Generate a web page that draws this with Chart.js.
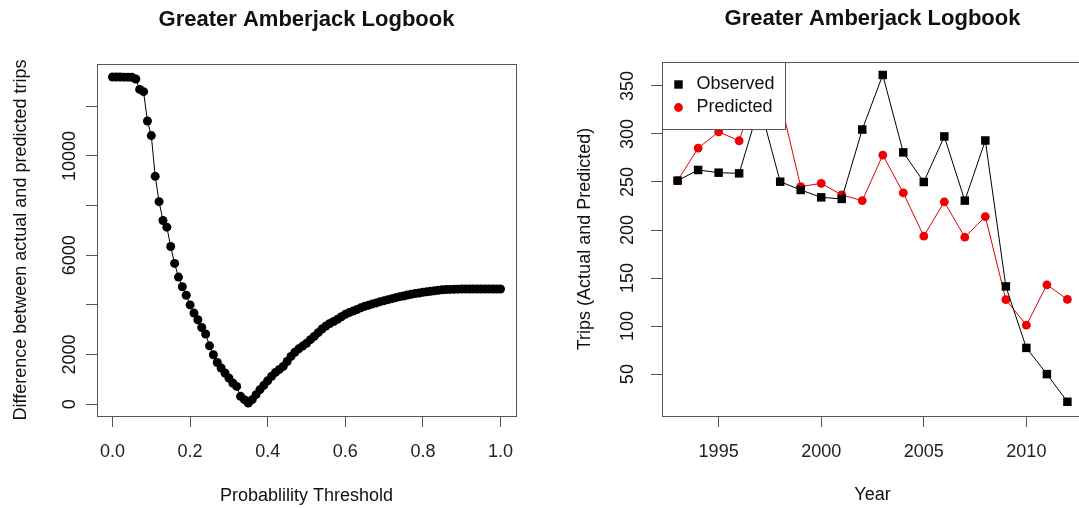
<!DOCTYPE html>
<html>
<head>
<meta charset="utf-8">
<script src="https://cdn.jsdelivr.net/npm/chart.js@4.4.1/dist/chart.umd.min.js"></script>
<style>
  html, body { margin: 0; padding: 0; background: #fff; overflow: hidden; width: 1079px; height: 508px; }
  #c1 { position: absolute; left: 0; top: 0; }
  #c2 { position: absolute; left: 560px; top: 0; }
</style>
</head>
<body>
<canvas id="c1" width="560" height="508"></canvas>
<canvas id="c2" width="560" height="508"></canvas>
<script>
// ---------- Left panel data ----------
const thresholds = [0.00,0.01,0.02,0.03,0.04,0.05,0.06,0.07,0.08,0.09,
  0.10,0.11,0.12,0.13,0.14,0.15,0.16,0.17,0.18,0.19,
  0.20,0.21,0.22,0.23,0.24,0.25,0.26,0.27,0.28,0.29,
  0.30,0.31,0.32,0.33,0.34,0.35,0.36,0.37,0.38,0.39,
  0.40,0.41,0.42,0.43,0.44,0.45,0.46,0.47,0.48,0.49,
  0.50,0.51,0.52,0.53,0.54,0.55,0.56,0.57,0.58,0.59,
  0.60,0.61,0.62,0.63,0.64,0.65,0.66,0.67,0.68,0.69,
  0.70,0.71,0.72,0.73,0.74,0.75,0.76,0.77,0.78,0.79,
  0.80,0.81,0.82,0.83,0.84,0.85,0.86,0.87,0.88,0.89,
  0.90,0.91,0.92,0.93,0.94,0.95,0.96,0.97,0.98,0.99,1.00];
const differences = [13180,13180,13180,13175,13175,13170,13100,12680,12590,11410,
  10820,9180,8160,7400,7130,6350,5670,5120,4730,4390,
  4000,3670,3400,3090,2825,2350,1990,1680,1455,1255,
  1054,853,716,314,181,48,181,382,583,757,
  945,1120,1280,1400,1520,1720,1925,2090,2230,2340,
  2450,2600,2730,2880,3030,3150,3250,3330,3420,3520,
  3620,3690,3750,3810,3880,3940,3990,4040,4080,4130,
  4170,4210,4250,4290,4330,4360,4400,4430,4460,4480,
  4510,4530,4550,4570,4590,4610,4615,4622,4628,4633,
  4637,4640,4640,4640,4640,4640,4640,4640,4640,4640,4638];
const leftXTicks = [0, 0.2, 0.4, 0.6, 0.8, 1.0];
const leftYTicks = [0, 2000, 4000, 6000, 8000, 10000, 12000];
const leftYLabels = [0, 2000, 6000, 10000];

// ---------- Right panel data ----------
const years = [1993,1994,1995,1996,1997,1998,1999,2000,2001,2002,2003,2004,2005,2006,2007,2008,2009,2010,2011,2012];
const observed = [251.4,262.5,259.7,259.0,330.0,250.3,241.7,234.0,232.4,304.6,361.4,280.8,250.0,297.4,230.6,293.2,141.3,77.3,50.0,21.2];
const predicted = [251.4,285.3,302.2,292.9,357.0,335.6,245.2,248.6,236.5,230.6,278.0,238.6,193.6,229.3,192.5,214.0,127.5,100.9,143.0,127.8];
const rightXTicks = [1995, 2000, 2005, 2010];
const rightYTicks = [50, 100, 150, 200, 250, 300, 350];

const FONT = '"Liberation Sans", Arial, Helvetica, sans-serif';
Chart.defaults.font.family = FONT;
Chart.defaults.color = '#222';

const decor = {
  id: 'decor',
  afterDraw(chart, args, o) {
    const { ctx, chartArea: a, scales } = chart;
    ctx.save();
    ctx.strokeStyle = '#555';
    ctx.lineWidth = 1;
    ctx.strokeRect(Math.round(a.left) + 0.5, Math.round(a.top) + 0.5,
                   Math.round(a.right - a.left), Math.round(a.bottom - a.top));
    ctx.fillStyle = '#111';
    ctx.textAlign = 'center';
    ctx.textBaseline = 'middle';
    const cx = (a.left + a.right) / 2;
    const cy = (a.top + a.bottom) / 2;
    ctx.font = 'bold 22px ' + FONT;
    ctx.fillText(o.title, cx, o.titleY);
    ctx.font = '18px ' + FONT;
    ctx.fillText(o.xTitle, cx, o.xTitleY);
    ctx.save();
    ctx.translate(o.yTitleX, cy);
    ctx.rotate(-Math.PI / 2);
    ctx.fillText(o.yTitle, 0, 0);
    ctx.restore();
    const ys = scales.y;
    ys.ticks.forEach(t => {
      if (o.yShow.includes(t.value)) {
        const py = ys.getPixelForValue(t.value);
        ctx.save();
        ctx.translate(o.yLabelX, py);
        ctx.rotate(-Math.PI / 2);
        ctx.fillText(String(t.value), 0, 0);
        ctx.restore();
      }
    });
    ctx.restore();
  }
};

const boxLegend = {
  id: 'boxLegend',
  afterDatasetsDraw(chart, args, o) {
    if (!o || !o.show) return;
    const { ctx, chartArea: a } = chart;
    const x0 = Math.round(a.left) + 0.5, y0 = Math.round(a.top) + 0.5;
    ctx.save();
    ctx.fillStyle = '#fff';
    ctx.fillRect(x0, y0, o.width, o.height);
    ctx.strokeStyle = '#555';
    ctx.lineWidth = 1;
    ctx.strokeRect(x0, y0, o.width, o.height);
    ctx.font = '18px ' + FONT;
    ctx.textAlign = 'left';
    ctx.textBaseline = 'middle';
    chart.data.datasets.forEach((ds, i) => {
      const my = y0 + o.firstRow + i * o.rowGap;
      const mx = x0 + o.markerX;
      ctx.fillStyle = ds.pointBackgroundColor;
      if (ds.pointStyle === 'rect') {
        ctx.fillRect(mx - 4.2, my - 4.2, 8.4, 8.4);
      } else {
        ctx.beginPath();
        ctx.arc(mx, my, 4.4, 0, Math.PI * 2);
        ctx.fill();
      }
      ctx.fillStyle = '#111';
      ctx.fillText(ds.label, x0 + o.textX, my);
    });
    ctx.restore();
  }
};

function tickSetter(list) {
  return s => { s.ticks = list.map(v => ({ value: v })); };
}
const gridOpts = { drawOnChartArea: false, drawTicks: true, tickLength: 11, color: '#555', lineWidth: 1 };

// ---------- Left chart ----------
new Chart(document.getElementById('c1'), {
  type: 'scatter',
  data: {
    datasets: [{
      label: 'Difference',
      data: thresholds.map((t, i) => ({ x: t, y: differences[i] })),
      showLine: true,
      borderColor: '#000',
      borderWidth: 1,
      pointRadius: 4.5,
      pointBackgroundColor: '#000',
      pointBorderWidth: 0,
      pointStyle: 'circle'
    }]
  },
  options: {
    responsive: false,
    animation: false,
    events: [],
    layout: { padding: { left: 0, right: 44, top: 64, bottom: 0 } },
    plugins: {
      legend: { display: false },
      tooltip: { enabled: false },
      decor: {
        title: 'Greater Amberjack Logbook', titleY: 20,
        xTitle: 'Probablility Threshold', xTitleY: 496,
        yTitle: 'Difference between actual and predicted trips', yTitleX: 21,
        yLabelX: 70, yShow: leftYLabels
      }
    },
    scales: {
      x: {
        type: 'linear', min: -0.04, max: 1.04,
        afterBuildTicks: tickSetter(leftXTicks),
        afterFit: s => { s.height = 92; },
        grid: gridOpts, border: { display: false },
        ticks: { font: { size: 18 }, color: '#222', padding: 14, maxRotation: 0, autoSkip: false,
                 callback: v => Number(v).toFixed(1) }
      },
      y: {
        type: 'linear', min: -477, max: 13705,
        afterBuildTicks: tickSetter(leftYTicks),
        afterFit: s => { s.width = 97; },
        grid: gridOpts, border: { display: false },
        ticks: { display: false }
      }
    }
  },
  plugins: [decor]
});

// ---------- Right chart ----------
new Chart(document.getElementById('c2'), {
  type: 'scatter',
  data: {
    datasets: [{
      label: 'Observed',
      data: years.map((y, i) => ({ x: y, y: observed[i] })),
      showLine: true,
      borderColor: '#000',
      borderWidth: 1,
      pointStyle: 'rect',
      pointRadius: 6,
      pointBackgroundColor: '#000',
      pointBorderWidth: 0
    }, {
      label: 'Predicted',
      data: years.map((y, i) => ({ x: y, y: predicted[i] })),
      showLine: true,
      borderColor: '#e00000',
      borderWidth: 1,
      pointStyle: 'circle',
      pointRadius: 4.4,
      pointBackgroundColor: '#f00000',
      pointBorderWidth: 0
    }]
  },
  options: {
    responsive: false,
    animation: false,
    events: [],
    layout: { padding: { left: 0, right: 37, top: 62, bottom: 0 } },
    plugins: {
      legend: { display: false },
      tooltip: { enabled: false },
      decor: {
        title: 'Greater Amberjack Logbook', titleY: 19,
        xTitle: 'Year', xTitleY: 495,
        yTitle: 'Trips (Actual and Predicted)', yTitleX: 25,
        yLabelX: 68, yShow: rightYTicks
      },
      boxLegend: { show: true, width: 123, height: 67, markerX: 16, textX: 34, firstRow: 22, rowGap: 23 }
    },
    scales: {
      x: {
        type: 'linear', min: 1992.24, max: 2012.76,
        afterBuildTicks: tickSetter(rightXTicks),
        afterFit: s => { s.height = 92; },
        grid: gridOpts, border: { display: false },
        ticks: { font: { size: 18 }, color: '#222', padding: 14, maxRotation: 0, autoSkip: false,
                 callback: v => String(v) }
      },
      y: {
        type: 'linear', min: 6.4, max: 374.9,
        afterBuildTicks: tickSetter(rightYTicks),
        afterFit: s => { s.width = 102; },
        grid: gridOpts, border: { display: false },
        ticks: { display: false }
      }
    }
  },
  plugins: [decor, boxLegend]
});
</script>
</body>
</html>
